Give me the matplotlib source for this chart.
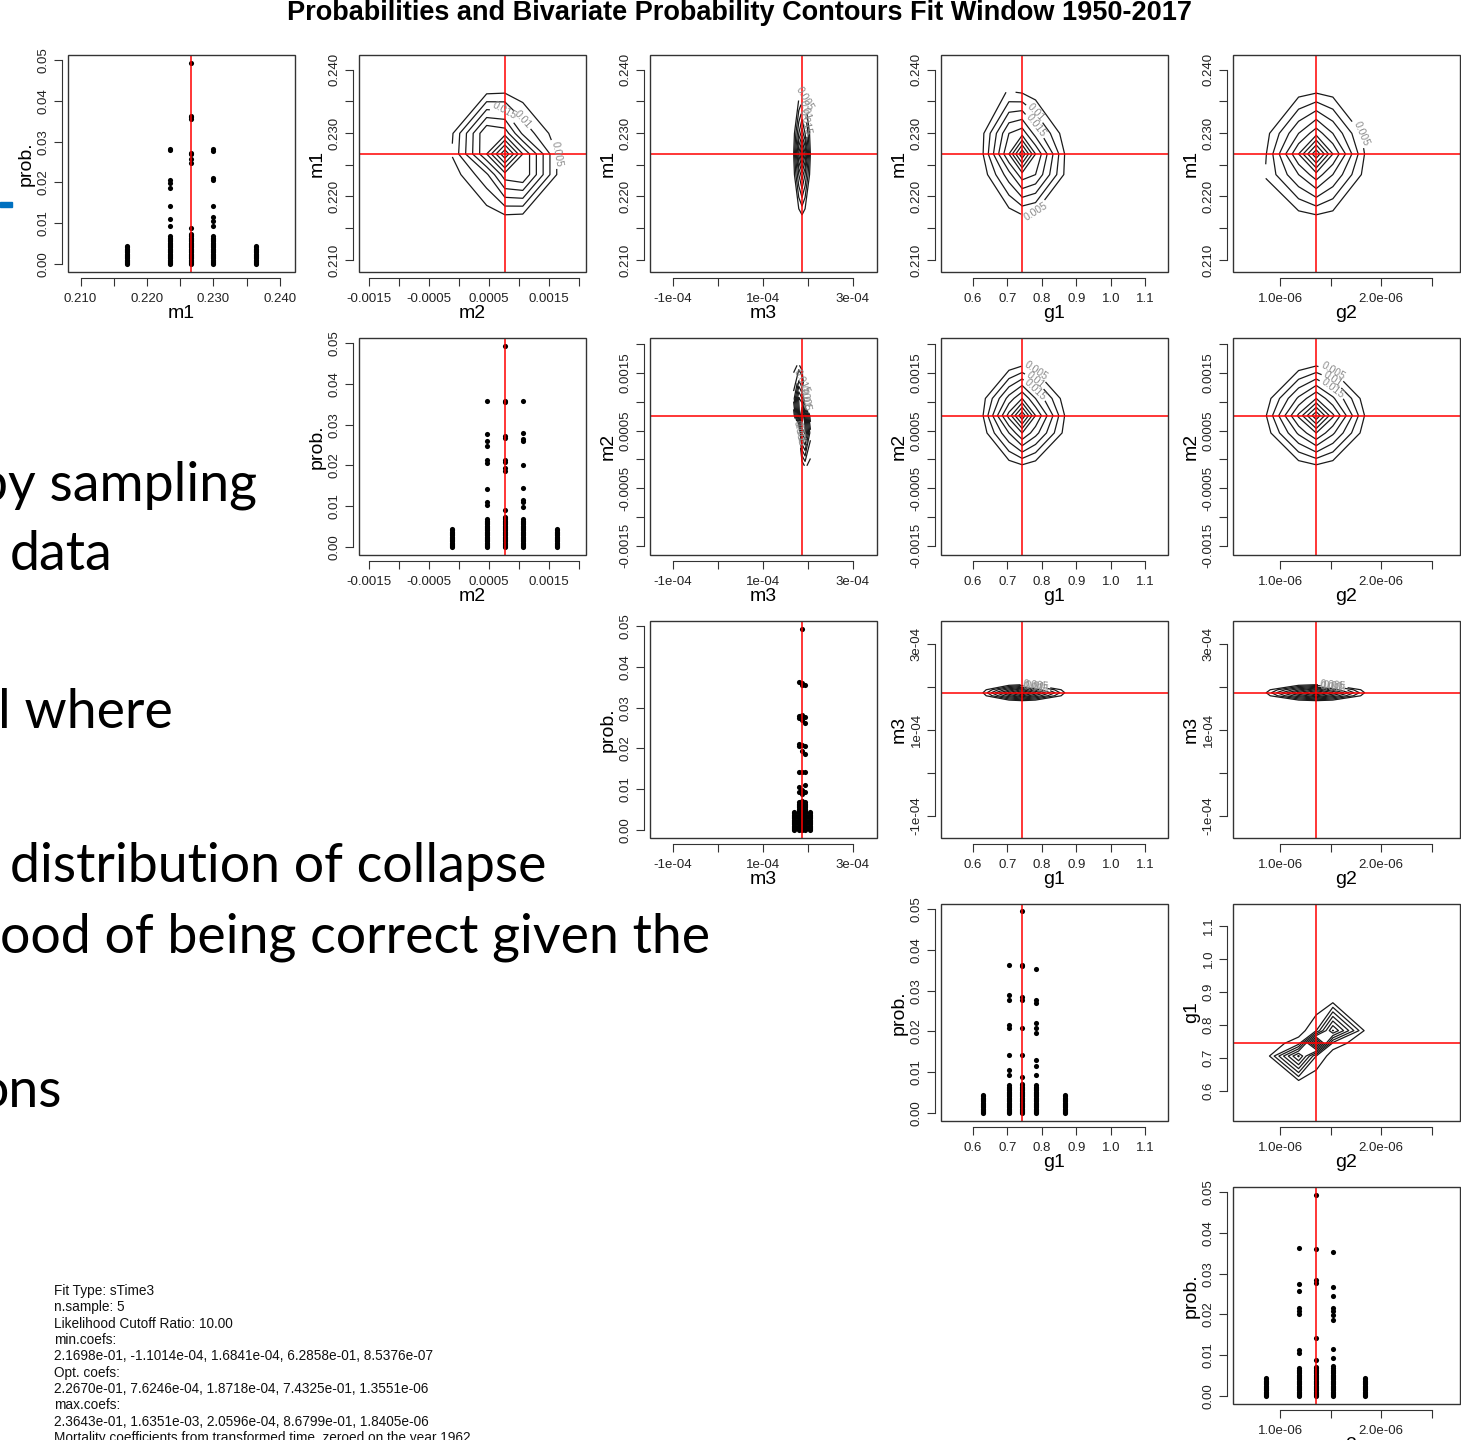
import matplotlib.pyplot as plt
from matplotlib.patches import Rectangle

W, H = 1461, 1440

params = ['m1', 'm2', 'm3', 'g1', 'g2']
min_coefs = [2.1698e-01, -1.1014e-04, 1.6841e-04, 6.2858e-01, 8.5376e-07]
opt_coefs = [2.2670e-01, 7.6246e-04, 1.8718e-04, 7.4325e-01, 1.3551e-06]
max_coefs = [2.3643e-01, 1.6351e-03, 2.0596e-04, 8.6799e-01, 1.8405e-06]

# sampled values of each coefficient
m1_vals = [0.21698, 0.22345, 0.22670, 0.22995, 0.23643]
m2_vals = [-0.00011014, 0.00046, 0.00076246, 0.00106, 0.0016351]
m3_vals = [1.6841e-4, 1.80e-4, 1.8718e-4, 1.94e-4, 2.0596e-4]
g1_vals = [0.62858, 0.705, 0.74325, 0.782, 0.86799]
g2_vals = [8.5376e-7, 1.18e-6, 1.3551e-6, 1.52e-6, 1.8405e-6]

low_edge = [0.0, 0.0002, 0.0004, 0.0007, 0.001, 0.0013, 0.0016, 0.0019, 0.0022,
            0.0025, 0.0028, 0.0031, 0.0034, 0.0037, 0.004, 0.0043]
low_mid = [0.0, 0.0002, 0.0004, 0.0007, 0.001, 0.0013, 0.0016, 0.0019, 0.0022,
           0.0025, 0.0028, 0.0031, 0.0034, 0.0037, 0.004, 0.0043, 0.0046,
           0.0049, 0.0052, 0.0055, 0.0058, 0.0061, 0.0064, 0.0067]

m1_probs = [low_edge,
            low_mid + [0.0092, 0.011, 0.0143, 0.0185, 0.0199, 0.0206, 0.0279, 0.0283],
            low_mid + [0.0071, 0.0074, 0.0088, 0.0248, 0.0258, 0.027, 0.0273, 0.0355, 0.036, 0.0362, 0.0493],
            low_mid + [0.0092, 0.0105, 0.0115, 0.0143, 0.0205, 0.021, 0.0278, 0.0283],
            low_edge]
m2_probs = [low_edge,
            low_mid + [0.0102, 0.0111, 0.0143, 0.0205, 0.0212, 0.0248, 0.026, 0.0278, 0.0359],
            low_mid + [0.007, 0.0074, 0.0089, 0.0185, 0.0193, 0.0207, 0.0212, 0.0268, 0.0273, 0.0356, 0.0359, 0.0493],
            low_mid + [0.0098, 0.0109, 0.0116, 0.0144, 0.0202, 0.026, 0.0265, 0.028, 0.0358],
            low_edge]
m3_probs = [low_edge,
            low_mid + [0.0092, 0.0105, 0.0143, 0.0205, 0.021, 0.0275, 0.028, 0.0362],
            low_mid + [0.007, 0.0088, 0.0098, 0.0142, 0.0193, 0.0207, 0.027, 0.0277, 0.0283, 0.0355, 0.036, 0.0493],
            low_mid + [0.0092, 0.011, 0.0143, 0.0185, 0.0205, 0.0262, 0.0278, 0.0355],
            low_edge]
g1_probs = [low_edge,
            low_mid + [0.0093, 0.0105, 0.0142, 0.0208, 0.0216, 0.0277, 0.029, 0.0363],
            low_mid + [0.007, 0.0088, 0.0142, 0.0208, 0.0277, 0.0284, 0.036, 0.0363, 0.0495],
            low_mid + [0.0092, 0.0115, 0.013, 0.0196, 0.0208, 0.022, 0.027, 0.0277, 0.0353],
            low_edge]
g2_probs = [low_edge,
            low_mid + [0.0106, 0.0113, 0.02, 0.0207, 0.0215, 0.0258, 0.0274, 0.0362],
            low_mid + [0.007, 0.0087, 0.0143, 0.0276, 0.0284, 0.036, 0.0493],
            low_mid + [0.0072, 0.0092, 0.0114, 0.0186, 0.0199, 0.0207, 0.0215, 0.0245, 0.0268, 0.0354],
            low_edge]

# bivariate max probabilities, rows = y coefficient values, cols = x coefficient values
z_m1_m2 = [[0.000, 0.002, 0.0045, 0.004, 0.001],
           [0.002, 0.014, 0.028, 0.030, 0.0045],
           [0.0055, 0.030, 0.0493, 0.030, 0.0045],
           [0.0045, 0.030, 0.028, 0.014, 0.002],
           [0.001, 0.004, 0.0045, 0.002, 0.000]]
z_m1_m3 = [[0.000, 0.002, 0.0045, 0.002, 0.000],
           [0.002, 0.020, 0.028, 0.020, 0.002],
           [0.0045, 0.036, 0.0493, 0.036, 0.0045],
           [0.002, 0.020, 0.028, 0.020, 0.002],
           [0.000, 0.002, 0.0045, 0.002, 0.000]]
z_m1_g1 = [[0.000, 0.002, 0.0045, 0.003, 0.001],
           [0.002, 0.018, 0.028, 0.025, 0.004],
           [0.0045, 0.030, 0.0493, 0.030, 0.0045],
           [0.004, 0.025, 0.028, 0.018, 0.002],
           [0.001, 0.0055, 0.0045, 0.002, 0.000]]
z_m1_g2 = [[0.000, 0.003, 0.0045, 0.003, 0.000],
           [0.0055, 0.020, 0.028, 0.020, 0.003],
           [0.0045, 0.030, 0.0493, 0.030, 0.0045],
           [0.003, 0.020, 0.028, 0.020, 0.003],
           [0.000, 0.003, 0.0045, 0.003, 0.000]]
z_m2_m3 = [[0.000, 0.000, 0.001, 0.006, 0.003],
           [0.000, 0.003, 0.030, 0.036, 0.012],
           [0.001, 0.030, 0.0493, 0.030, 0.001],
           [0.012, 0.036, 0.030, 0.003, 0.000],
           [0.003, 0.006, 0.001, 0.000, 0.000]]
z_m2_g1 = [[0.000, 0.002, 0.0042, 0.002, 0.000],
           [0.002, 0.020, 0.030, 0.022, 0.003],
           [0.0045, 0.032, 0.0493, 0.030, 0.0045],
           [0.003, 0.022, 0.030, 0.020, 0.002],
           [0.000, 0.002, 0.0045, 0.002, 0.000]]
z_m2_g2 = [[0.000, 0.002, 0.0042, 0.002, 0.000],
           [0.002, 0.021, 0.030, 0.021, 0.002],
           [0.0045, 0.031, 0.0493, 0.031, 0.0045],
           [0.002, 0.021, 0.030, 0.021, 0.002],
           [0.000, 0.002, 0.0045, 0.002, 0.000]]
z_m3_g1 = [[0.000, 0.002, 0.0045, 0.002, 0.000],
           [0.002, 0.024, 0.036, 0.024, 0.002],
           [0.0045, 0.036, 0.0493, 0.035, 0.0045],
           [0.002, 0.024, 0.036, 0.024, 0.002],
           [0.000, 0.002, 0.0045, 0.002, 0.000]]
z_m3_g2 = [[0.000, 0.002, 0.0045, 0.002, 0.000],
           [0.002, 0.024, 0.036, 0.024, 0.002],
           [0.0045, 0.036, 0.0493, 0.035, 0.0045],
           [0.002, 0.024, 0.036, 0.024, 0.002],
           [0.000, 0.002, 0.0045, 0.002, 0.000]]
z_g1_g2 = [[0.000, 0.004, 0.001, 0.000, 0.000],
           [0.001, 0.036, 0.010, 0.002, 0.000],
           [0.001, 0.008, 0.0493, 0.008, 0.001],
           [0.000, 0.002, 0.010, 0.0355, 0.004],
           [0.000, 0.000, 0.001, 0.0045, 0.000]]

contour_levels = [0.005, 0.01, 0.015, 0.02, 0.025, 0.03, 0.035, 0.04, 0.045]

# axis ticks
m1_ticks = [0.210, 0.215, 0.220, 0.225, 0.230, 0.235, 0.240]
m1_labels = ['0.210', '', '0.220', '', '0.230', '', '0.240']
m2_ticks = [-0.0015, -0.001, -0.0005, 0.0, 0.0005, 0.001, 0.0015, 0.002]
m2_labels = ['-0.0015', '', '-0.0005', '', '0.0005', '', '0.0015', '']
m3_ticks = [-1e-4, 0.0, 1e-4, 2e-4, 3e-4]
m3_labels = ['-1e-04', '', '1e-04', '', '3e-04']
g1_ticks = [0.6, 0.7, 0.8, 0.9, 1.0, 1.1]
g1_labels = ['0.6', '0.7', '0.8', '0.9', '1.0', '1.1']
g2_ticks = [1.0e-6, 1.5e-6, 2.0e-6, 2.5e-6]
g2_labels = ['1.0e-06', '', '2.0e-06', '']
prob_ticks = [0.0, 0.01, 0.02, 0.03, 0.04, 0.05]
prob_labels = ['0.00', '0.01', '0.02', '0.03', '0.04', '0.05']

info_lines = ['Fit Type: sTime3',
              'n.sample: 5',
              'Likelihood Cutoff Ratio: 10.00',
              'min.coefs:',
              ', '.join('%.4e' % v for v in min_coefs),
              'Opt. coefs:',
              ', '.join('%.4e' % v for v in opt_coefs),
              'max.coefs:',
              ', '.join('%.4e' % v for v in max_coefs),
              'Mortality coefficients from transformed time, zeroed on the year 1962']

vals = {'m1': m1_vals, 'm2': m2_vals, 'm3': m3_vals, 'g1': g1_vals, 'g2': g2_vals}
probs = {'m1': m1_probs, 'm2': m2_probs, 'm3': m3_probs, 'g1': g1_probs, 'g2': g2_probs}
ticks = {'m1': (m1_ticks, m1_labels), 'm2': (m2_ticks, m2_labels), 'm3': (m3_ticks, m3_labels),
         'g1': (g1_ticks, g1_labels), 'g2': (g2_ticks, g2_labels), 'prob.': (prob_ticks, prob_labels)}
lims = {'m1': (0.2081, 0.2423), 'm2': (-0.00166, 0.00211), 'm3': (-1.51e-4, 3.54e-4),
        'g1': (0.508, 1.166), 'g2': (0.529e-6, 2.782e-6), 'prob.': (-0.00204, 0.0513)}
opt = dict(zip(params, opt_coefs))
zs = {(0, 1): z_m1_m2, (0, 2): z_m1_m3, (0, 3): z_m1_g1, (0, 4): z_m1_g2,
      (1, 2): z_m2_m3, (1, 3): z_m2_g1, (1, 4): z_m2_g2,
      (2, 3): z_m3_g1, (2, 4): z_m3_g2, (3, 4): z_g1_g2}
label_levels = {(0, 4): [0.005], (3, 4): []}

plt.rcParams['font.family'] = ['Liberation Sans', 'DejaVu Sans']
fig = plt.figure(figsize=(W / 100, H / 100), dpi=100)

col_left = [68, 359, 650, 941, 1233]
row_top = [55, 338, 621, 904, 1187]
pw, ph = 227, 217
dark = '#333333'


def setup(ax, xname, yname):
    ax.set_xlim(*lims[xname])
    ax.set_ylim(*lims[yname])
    ax.spines['top'].set_visible(False)
    ax.spines['right'].set_visible(False)
    for s in ['bottom', 'left']:
        ax.spines[s].set_position(('outward', 4.3))
        ax.spines[s].set_color(dark)
        ax.spines[s].set_linewidth(0.8)
    xt, xl = ticks[xname]
    yt, yl = ticks[yname]
    ax.set_xticks(xt)
    ax.set_xticklabels(xl)
    ax.set_yticks(yt)
    ax.set_yticklabels(yl, rotation=90, va='center')
    ax.spines['bottom'].set_bounds(xt[0], xt[-1])
    ax.spines['left'].set_bounds(yt[0], yt[-1])
    ax.tick_params(direction='out', length=5.5, width=0.8, color=dark,
                   labelsize=9.5, labelcolor='#222222', pad=3.5)
    ax.tick_params(axis='x', pad=5.5)
    ax.add_patch(Rectangle((0, 0), 1, 1, transform=ax.transAxes, fill=False,
                           ec=dark, lw=1.0, clip_on=False, zorder=6))
    ax.set_xlabel(xname, fontsize=14)
    ax.set_ylabel(yname, fontsize=14)
    ax.xaxis.set_label_coords(0.5, -33 / ph)
    ax.yaxis.set_label_coords(-33 / pw, 0.5)


for r in range(5):
    for c in range(r, 5):
        rect = [col_left[c] / W, 1 - (row_top[r] + ph) / H, pw / W, ph / H]
        ax = fig.add_axes(rect)
        xname = params[c]
        if r == c:
            setup(ax, xname, 'prob.')
            for v, p in zip(vals[xname], probs[xname]):
                ax.plot([v] * len(p), p, 'o', ms=3.7, color='black', mew=0, zorder=3)
            ax.axvline(opt[xname], color='red', lw=1.1, zorder=4)
        else:
            yname = params[r]
            setup(ax, xname, yname)
            cs = ax.contour(vals[xname], vals[yname], zs[(r, c)], levels=contour_levels,
                            colors='#1a1a1a', linewidths=0.9, zorder=3)
            lv = label_levels.get((r, c), [0.005, 0.01, 0.015])
            if lv:
                ax.clabel(cs, levels=lv, inline=True, inline_spacing=2, fontsize=7.5,
                          colors='#8c8c8c', fmt='%g')
            ax.axvline(opt[xname], color='red', lw=1.1, zorder=4)
            ax.axhline(opt[yname], color='red', lw=1.1, zorder=4)

# title
renderer = fig.canvas.get_renderer()
title = fig.text(739 / W, 1 - 20 / H,
                 'Probabilities and Bivariate Probability Contours Fit Window 1950-2017',
                 ha='center', va='baseline', fontsize=19, fontweight='bold')
tw = title.get_window_extent(renderer).width
title.set_fontsize(19 * 905 / tw)

# slide text behind the figure (cut at the left edge)
probe = fig.text(0, 0, 'distribution of collapse', fontsize=40, family='Lato')
slide_size = 40 * 537 / probe.get_window_extent(renderer).width
probe.remove()
slide_lines = [('by sampling', 257, 500), ('data', 113, 570), ('l where', 173, 728),
               ('distribution of collapse', 547, 882),
               ('ood of being correct given the', 710, 952), ('ons', 62, 1107)]
for txt, xr, yb in slide_lines:
    fig.text(xr / W, 1 - yb / H, txt, ha='right', va='baseline',
             fontsize=slide_size, family='Lato', color='black')

fig.patches.append(Rectangle((0, 1 - 207 / H), 12 / W, 5 / H, transform=fig.transFigure,
                             color='#0070C0', zorder=1))

for i, line in enumerate(info_lines):
    fig.text(54 / W, 1 - (1291 + 16.35 * i) / H, line, ha='left', va='center',
             fontsize=9.8, color='#111111')

fig.savefig('out.png', dpi=100)
